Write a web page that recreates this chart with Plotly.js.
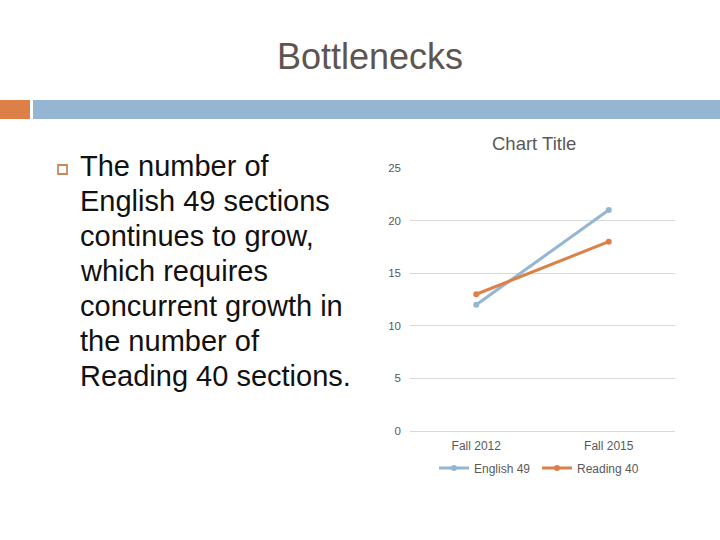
<!DOCTYPE html>
<html>
<head>
<meta charset="utf-8">
<script src="https://cdn.plot.ly/plotly-3.0.1.min.js"></script>
<style>html,body{margin:0;padding:0;background:#fff;}#chart{width:720px;height:540px;}</style>
</head>
<body>
<div id="chart"></div>
<script>
const categories = ["Fall 2012", "Fall 2015"];
const english49 = [12, 21];
const reading40 = [13, 18];
const seriesNames = ["English 49", "Reading 40"];
const yTicks = [0, 5, 10, 15, 20, 25];
const slideTitle = "Bottlenecks";
const chartTitle = "Chart Title";
const bulletLines = ["The number of", "English 49 sections", "continues to grow,", "which requires", "concurrent growth in", "the number of", "Reading 40 sections."];

const W = 720, H = 540;
const px = x => x / W;
const py = y => 1 - y / H;

const traces = [
  {x: categories, y: english49, name: seriesNames[0], type: "scatter", mode: "lines+markers",
   line: {color: "#94b6d2", width: 3}, marker: {color: "#94b6d2", size: 6}},
  {x: categories, y: reading40, name: seriesNames[1], type: "scatter", mode: "lines+markers",
   line: {color: "#dd8047", width: 3}, marker: {color: "#dd8047", size: 6}}
];

const annotations = [
  {text: slideTitle, x: px(370), y: py(57), xref: "paper", yref: "paper", showarrow: false,
   xanchor: "center", yanchor: "middle", font: {family: "Liberation Sans, Arial", size: 36, color: "#5e5550"}},
  {text: chartTitle, x: px(534), y: py(144), xref: "paper", yref: "paper", showarrow: false,
   xanchor: "center", yanchor: "middle", font: {family: "Liberation Sans, Arial", size: 18.5, color: "#595959"}}
];
bulletLines.forEach((t, i) => {
  annotations.push({text: t, x: px(78), y: py(166 + 35 * i), xref: "paper", yref: "paper", showarrow: false,
    xanchor: "left", yanchor: "middle", font: {family: "Liberation Sans, Arial", size: 29, color: "#111111"}});
});

const shapes = [
  {type: "rect", xref: "paper", yref: "paper", x0: 0, x1: px(30), y0: py(119), y1: py(100),
   fillcolor: "#dd8047", line: {width: 0}},
  {type: "rect", xref: "paper", yref: "paper", x0: px(33), x1: 1, y0: py(119), y1: py(100),
   fillcolor: "#94b6d2", line: {width: 0}},
  {type: "rect", xref: "paper", yref: "paper", x0: px(58), x1: px(67), y0: py(174), y1: py(165),
   fillcolor: "rgba(0,0,0,0)", line: {color: "#c9875f", width: 1.8}}
];

const layout = {
  width: W, height: H,
  margin: {l: 0, r: 0, t: 0, b: 0},
  paper_bgcolor: "#ffffff", plot_bgcolor: "#ffffff",
  font: {family: "Liberation Sans, Arial", color: "#595959"},
  showlegend: true,
  legend: {orientation: "h", x: px(537), xanchor: "center", y: py(468), yanchor: "middle",
           font: {size: 12, color: "#595959"}, entrywidth: 58, entrywidthmode: "pixels"},
  xaxis: {domain: [px(410), px(675)], type: "category", range: [-0.5, 1.5],
          showgrid: false, showline: false, zeroline: false, ticks: "",
          tickfont: {size: 12, color: "#595959"}, ticklabelstandoff: 6},
  yaxis: {domain: [py(431), py(168)], range: [0, 25], tickvals: yTicks,
          showgrid: true, gridcolor: "#d9d9d9", gridwidth: 1, zeroline: true, zerolinecolor: "#d9d9d9",
          showline: false, ticks: "", tickfont: {size: 11.5, color: "#595959"}, ticklabelstandoff: 8},
  annotations: annotations,
  shapes: shapes
};

Plotly.newPlot("chart", traces, layout, {displayModeBar: false, staticPlot: true});
</script>
</body>
</html>
